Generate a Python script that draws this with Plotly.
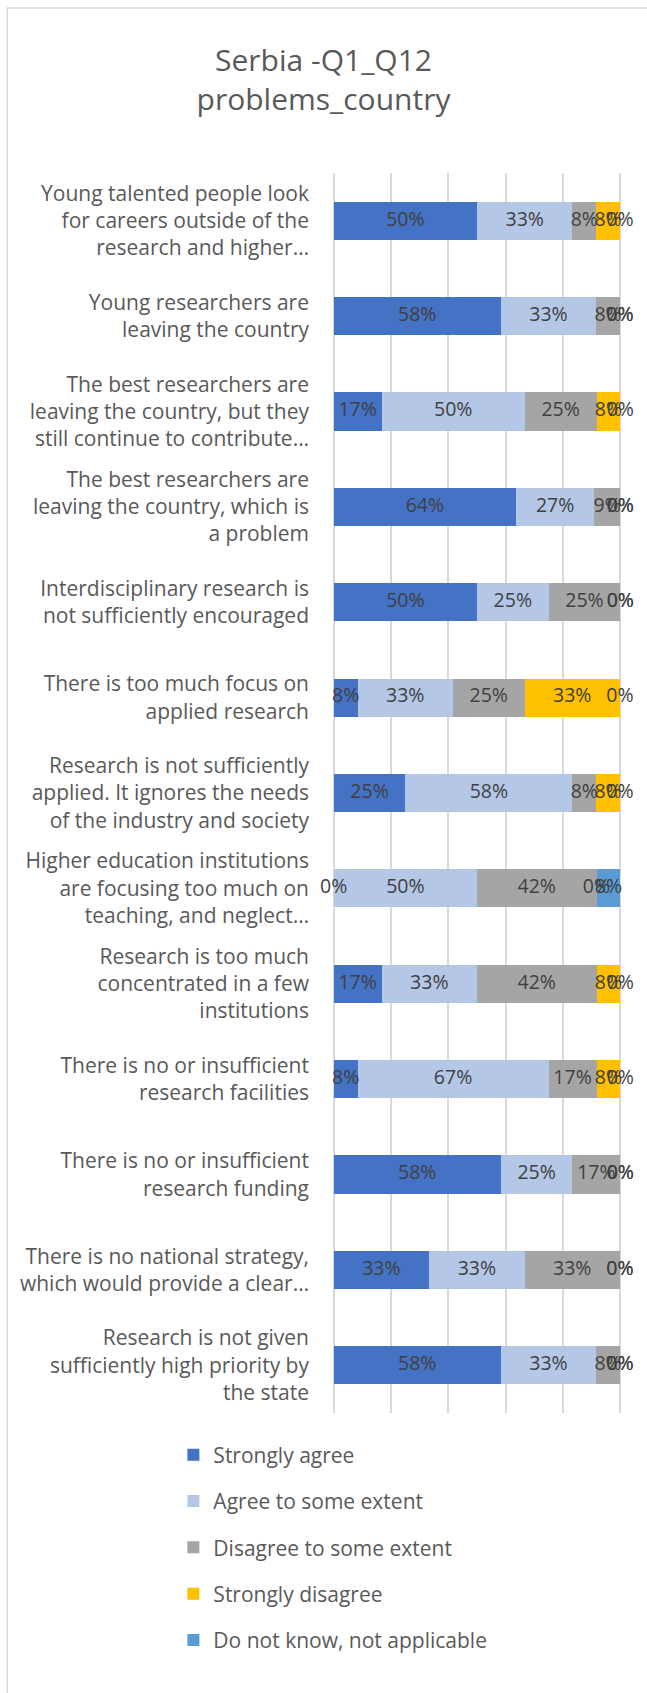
import numpy as np
import plotly.graph_objects as go

# statements, top to bottom as in the chart
statements = [
    "Young talented people look<br>for careers outside of the<br>research and higher…",
    "Young researchers are<br>leaving the country",
    "The best researchers are<br>leaving the country, but they<br>still continue to contribute…",
    "The best researchers are<br>leaving the country, which is<br>a problem",
    "Interdisciplinary research is<br>not sufficiently encouraged",
    "There is too much focus on<br>applied research",
    "Research is not sufficiently<br>applied. It ignores the needs<br>of the industry and society",
    "Higher education institutions<br>are focusing too much on<br>teaching, and neglect…",
    "Research is too much<br>concentrated in a few<br>institutions",
    "There is no or insufficient<br>research facilities",
    "There is no or insufficient<br>research funding",
    "There is no national strategy,<br>which would provide a clear…",
    "Research is not given<br>sufficiently high priority by<br>the state",
]

strongly_agree = [50, 58.3, 16.7, 63.6, 50, 8.3, 25, 0, 16.7, 8.3, 58.3, 33.3, 58.3]
agree_some = [33.3, 33.3, 50, 27.3, 25, 33.3, 58.3, 50, 33.3, 66.7, 25, 33.3, 33.3]
disagree_some = [8.3, 8.3, 25, 9.1, 25, 25, 8.3, 41.7, 41.7, 16.7, 16.7, 33.3, 8.3]
strongly_disagree = [8.3, 0, 8.3, 0, 0, 33.3, 8.3, 0, 8.3, 8.3, 0, 0, 0]
dont_know = [0, 0, 0, 0, 0, 0, 0, 8.3, 0, 0, 0, 0, 0]

series = [
    ("Strongly agree", strongly_agree, "#4472C4"),
    ("Agree to some extent", agree_some, "#B4C7E7"),
    ("Disagree to some extent", disagree_some, "#A5A5A5"),
    ("Strongly disagree", strongly_disagree, "#FFC000"),
    ("Do not know, not applicable", dont_know, "#5B9BD5"),
]

FONT = "Open Sans"
fig = go.Figure()

for i, (name, vals, col) in enumerate(series):
    fig.add_trace(go.Bar(
        y=statements, x=vals, name=name, orientation="h",
        marker=dict(color=col, line=dict(width=0)),
        legendgroup=f"g{i}",
    ))

# data labels centred on each segment (also the 0% ones, like Excel does)
base = np.zeros(len(statements))
for name, vals, col in series:
    v = np.array(vals, dtype=float)
    mid = base + v / 2
    base = base + v
    fig.add_trace(go.Scatter(
        y=statements, x=mid, mode="text",
        text=[f"{x:.0f}%" for x in v],
        textfont=dict(family=FONT, size=19.5, color="#404040"),
        showlegend=False, cliponaxis=False, hoverinfo="skip",
    ))

# chart frame
fig.add_shape(type="rect", xref="paper", yref="paper",
              x0=-1.12, x1=1.2, y0=-0.25, y1=1.133,
              line=dict(color="#D9D9D9", width=1.5), fillcolor="rgba(0,0,0,0)", layer="below")

fig.update_layout(
    width=647, height=1693,
    margin=dict(l=332, r=25, t=173, b=280),
    paper_bgcolor="white", plot_bgcolor="white",
    barmode="stack", bargap=0.6,
    title=dict(text="Serbia -Q1_Q12<br>problems_country", x=0.5, xref="container",
               y=0.958, yanchor="middle",
               font=dict(family=FONT, size=30, color="#595959")),
    font=dict(family=FONT, color="#595959"),
    legend=dict(x=-0.547, y=-0.0174, xanchor="left", yanchor="top",
                traceorder="grouped", tracegroupgap=16,
                font=dict(family=FONT, size=21, color="#595959")),
    showlegend=True,
)
fig.update_xaxes(range=[-0.6, 100.6], dtick=20, tick0=0, showticklabels=False,
                 showgrid=True, gridcolor="#D9D9D9", gridwidth=1.5, zeroline=False)
fig.update_yaxes(range=[12.5, -0.5], autorange=False, showgrid=False, ticks="",
                 ticklabelstandoff=22,
                 tickfont=dict(family=FONT, size=21, color="#595959"))

fig.write_html("out.html", config={"displayModeBar": False},
               post_script="document.body.style.margin='0';")
